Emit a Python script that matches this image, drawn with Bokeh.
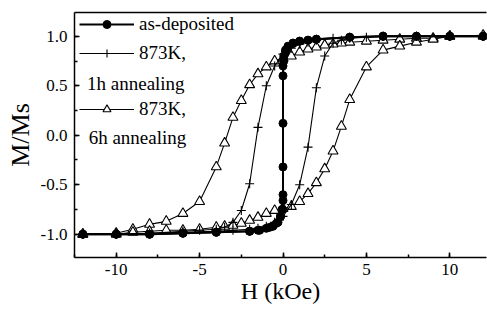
from bokeh.plotting import figure
from bokeh.models import (Range1d, SingleIntervalTicker, FixedTicker, LinearAxis, PrintfTickFormatter,
                          Legend, LegendItem, Label, ColumnDataSource)
from bokeh.embed import file_html
from bokeh.resources import INLINE

# ---- data ----
# as-deposited: descending branch then ascending branch
asdep_down_H = [12, 10, 8, 6, 4, 2, 1.5, 1, 0.6, 0.3, 0.15, 0.05, 0, 0, 0, -0.05, -0.15, -0.3, -0.6, -1, -1.5, -2, -4, -6, -8, -10, -12]
asdep_down_M = [1.0, 1.0, 1.0, 1.0, 0.99, 0.97, 0.96, 0.95, 0.93, 0.9, 0.86, 0.8, 0.7, 0.12, -0.6, -0.75, -0.82, -0.88, -0.92, -0.94, -0.96, -0.97, -0.98, -0.99, -1.0, -1.0, -1.0]
asdep_up_H = [-12, -10, -8, -6, -4, -2, -1.4, -0.8, -0.4, -0.15, -0.05, 0, 0, 0, 0.05, 0.15, 0.3, 0.6, 1, 1.5, 2, 4, 6, 8, 10, 12]
asdep_up_M = [-1.0, -1.0, -1.0, -0.99, -0.98, -0.97, -0.96, -0.93, -0.89, -0.82, -0.75, -0.66, -0.32, 0.6, 0.75, 0.84, 0.89, 0.93, 0.95, 0.96, 0.97, 0.99, 1.0, 1.0, 1.0, 1.0]

# 873K, 1h annealing
h1_down_H = [12, 10, 8, 6, 4, 3, 2, 1.5, 1, 0.5, 0, -0.5, -1, -1.5, -2, -2.5, -3, -3.5, -4, -5, -6, -8, -10, -12]
h1_down_M = [1.0, 1.0, 1.0, 1.0, 0.99, 0.98, 0.96, 0.94, 0.92, 0.88, 0.82, 0.7, 0.5, 0.08, -0.49, -0.76, -0.88, -0.93, -0.95, -0.96, -0.97, -0.99, -1.0, -1.0]
h1_up_H = [-12, -10, -8, -6, -4, -3, -2, -1.5, -1, -0.5, 0, 0.5, 1, 1.5, 2, 2.5, 3, 3.5, 4, 5, 6, 8, 10, 12]
h1_up_M = [-1.0, -1.0, -0.99, -0.98, -0.97, -0.96, -0.95, -0.94, -0.92, -0.88, -0.82, -0.7, -0.5, -0.12, 0.48, 0.8, 0.93, 0.96, 0.98, 0.99, 1.0, 1.0, 1.0, 1.0]

# 873K, 6h annealing
h6_down_H = [12, 10, 9, 8, 7, 6, 5, 4, 3.5, 3, 2.5, 2, 1.5, 1, 0.5, 0, -0.5, -1, -1.5, -2, -2.5, -3, -3.5, -4, -5, -6, -7, -8, -9, -10, -12]
h6_down_M = [1.0, 1.0, 0.98, 0.98, 0.97, 0.96, 0.95, 0.94, 0.93, 0.92, 0.91, 0.89, 0.87, 0.84, 0.8, 0.78, 0.75, 0.69, 0.62, 0.51, 0.35, 0.18, -0.08, -0.32, -0.67, -0.79, -0.87, -0.9, -0.95, -0.99, -1.0]
h6_up_H = [-12, -10, -9, -8, -7, -6, -5, -4, -3.5, -3, -2.5, -2, -1.5, -1, -0.5, 0, 0.5, 1, 1.5, 2, 2.5, 3, 3.5, 4, 5, 6, 7, 8, 9, 10, 12]
h6_up_M = [-1.0, -1.0, -0.98, -0.97, -0.96, -0.96, -0.95, -0.93, -0.92, -0.91, -0.89, -0.86, -0.83, -0.79, -0.76, -0.74, -0.72, -0.67, -0.59, -0.48, -0.34, -0.16, 0.09, 0.36, 0.69, 0.86, 0.9, 0.94, 0.97, 1.0, 1.01]

x_ticks_interval = 5
y_ticks_interval = 0.5
labels = ["as-deposited", "873K,", "1h annealing", "873K,", "6h annealing"]

FONT = "Liberation Serif"

p = figure(width=487, height=310, output_backend="svg", toolbar_location=None,
           x_range=Range1d(-12.5, 12.2), y_range=Range1d(-1.235, 1.24),
           min_border_left=74, min_border_right=1, min_border_top=12, min_border_bottom=53,
           x_axis_type=None, y_axis_type=None)
p.outline_line_color = None
p.grid.visible = False
p.background_fill_color = "white"
p.border_fill_color = "white"

xax = LinearAxis(ticker=SingleIntervalTicker(interval=x_ticks_interval, num_minor_ticks=2),
                 formatter=PrintfTickFormatter(format="%d"))
yax = LinearAxis(ticker=SingleIntervalTicker(interval=y_ticks_interval, num_minor_ticks=2),
                 formatter=PrintfTickFormatter(format="%.1f"))
for ax in (xax, yax):
    ax.axis_line_width = 1.5
    ax.major_tick_line_width = 1.5
    ax.minor_tick_line_width = 1.5
    ax.major_tick_in = 5
    ax.major_tick_out = 0
    ax.minor_tick_in = 3
    ax.minor_tick_out = 0
    ax.major_label_text_font = FONT
    ax.major_label_text_font_size = "17px"
    ax.major_label_text_color = "black"
    ax.axis_label_text_font = FONT
    ax.axis_label_text_font_style = "normal"
    ax.axis_label_text_color = "black"
xax.axis_label = "H (kOe)"
xax.axis_label_text_font_size = "24px"
xax.major_label_standoff = 6
xax.axis_label_standoff = 0
yax.axis_label = "M/Ms"
yax.axis_label_text_font_size = "26px"
yax.major_label_standoff = 7
yax.axis_label_standoff = 3
p.add_layout(xax, "below")
p.add_layout(yax, "left")

# 6h annealing (open triangles)
s6d = ColumnDataSource(dict(x=h6_down_H, y=h6_down_M))
s6u = ColumnDataSource(dict(x=h6_up_H, y=h6_up_M))
l6 = p.line("x", "y", source=s6d, line_color="black", line_width=1.1)
p.line("x", "y", source=s6u, line_color="black", line_width=1.1)
m6 = p.scatter("x", "y", source=s6d, marker="triangle", size=10, fill_color="white", line_color="black", line_width=1.1)
p.scatter("x", "y", source=s6u, marker="triangle", size=10, fill_color="white", line_color="black", line_width=1.1)

# 1h annealing (plus)
s1d = ColumnDataSource(dict(x=h1_down_H, y=h1_down_M))
s1u = ColumnDataSource(dict(x=h1_up_H, y=h1_up_M))
l1 = p.line("x", "y", source=s1d, line_color="black", line_width=1.1)
p.line("x", "y", source=s1u, line_color="black", line_width=1.1)
m1 = p.scatter("x", "y", source=s1d, marker="cross", size=9, line_color="black", line_width=1.1)
p.scatter("x", "y", source=s1u, marker="cross", size=9, line_color="black", line_width=1.1)

# as-deposited (filled circles)
sad = ColumnDataSource(dict(x=asdep_down_H, y=asdep_down_M))
sau = ColumnDataSource(dict(x=asdep_up_H, y=asdep_up_M))
la = p.line("x", "y", source=sad, line_color="black", line_width=2)
p.line("x", "y", source=sau, line_color="black", line_width=2)
ma = p.scatter("x", "y", source=sad, marker="circle", size=8, fill_color="black", line_color="black")
p.scatter("x", "y", source=sau, marker="circle", size=8, fill_color="black", line_color="black")

blank = p.scatter(x=[], y=[], alpha=0)

legend = Legend(items=[
    LegendItem(label=labels[0], renderers=[la, ma]),
    LegendItem(label=labels[1], renderers=[l1, m1]),
    LegendItem(label=" ", renderers=[blank]),
    LegendItem(label=labels[3], renderers=[l6, m6]),
    LegendItem(label=" ", renderers=[blank]),
], location=(5, 110), margin=0, padding=0, spacing=7, glyph_width=55, glyph_height=20,
    label_height=20, label_standoff=5, label_text_font=FONT, label_text_font_size="19px",
    label_text_color="black", background_fill_alpha=0, border_line_color=None)
p.add_layout(legend)

# second lines of the two-line legend labels
p.add_layout(Label(x=-11.75, y=0.525, text=labels[2], text_font=FONT, text_font_size="19px",
                   text_color="black", text_baseline="middle"))
p.add_layout(Label(x=-11.65, y=-0.02, text=labels[4], text_font=FONT, text_font_size="19px",
                   text_color="black", text_baseline="middle"))

# top frame line
p.add_layout(LinearAxis(ticker=FixedTicker(ticks=[]), major_tick_in=0, major_tick_out=0,
                        minor_tick_in=0, minor_tick_out=0, axis_line_width=1.5), "above")

open("out.html", "w").write(file_html(p, INLINE))
